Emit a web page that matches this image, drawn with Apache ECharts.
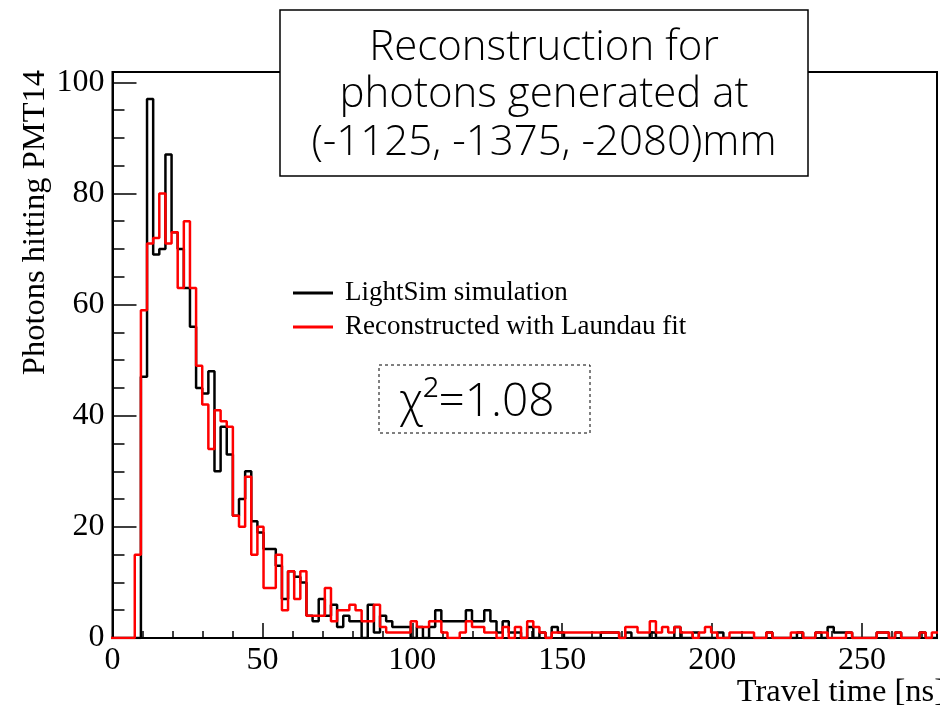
<!DOCTYPE html>
<html>
<head>
<meta charset="utf-8">
<script src="https://cdn.jsdelivr.net/npm/echarts@6/dist/echarts.min.js"></script>
<style>
  html, body { margin: 0; padding: 0; background: #fff; }
  #chart { width: 940px; height: 710px; }
</style>
</head>
<body>
<div id="chart"></div>
<script>
// Histogram binning (ns)
const binStart = -0.75;
const binWidth = 2.045;

// Photon counts per bin: LightSim simulation
const simCounts = [
  0, 0, 0, 0, 0, 47, 97, 69, 70, 87,
  73, 70, 63, 56, 45, 44, 48, 30, 38, 33,
  22, 25, 30, 21, 19, 16, 16, 13, 7, 12,
  11, 10, 4, 3, 7, 4, 6, 2, 4, 3,
  3, 0, 6, 1, 4, 3, 2, 2, 2, 0,
  2, 0, 2, 5, 3, 3, 3, 3, 5, 3,
  3, 5, 3, 1, 3, 1, 1, 0, 2, 0,
  1, 0, 2, 1, 0, 0, 0, 0, 0, 0,
  1, 1, 1, 0, 1, 0, 0, 0, 1, 0,
  0, 0, 2, 0, 0, 1, 0, 0, 0, 1,
  0, 0, 0, 0, 0, 0, 0, 1, 0, 0,
  0, 0, 1, 0, 0, 1, 0, 2, 1, 1,
  1, 0, 0, 0, 0, 1, 1, 0, 1, 0,
  0, 0, 1, 0, 0
];

// Photon counts per bin: reconstruction with Landau fit
const recoCounts = [
  0, 0, 0, 0, 15, 59, 71, 72, 80, 71,
  73, 63, 75, 63, 49, 42, 34, 41, 39, 38,
  22, 20, 29, 15, 20, 9, 9, 15, 5, 12,
  7, 12, 4, 4, 4, 9, 3, 5, 5, 6,
  5, 3, 3, 6, 2, 1, 1, 1, 1, 3,
  2, 2, 3, 3, 1, 0, 0, 1, 3, 2,
  2, 1, 1, 0, 2, 0, 2, 0, 3, 2,
  1, 0, 1, 1, 1, 1, 1, 1, 1, 1,
  1, 1, 1, 0, 2, 2, 1, 1, 3, 1,
  2, 1, 2, 1, 1, 0, 1, 2, 1, 0,
  0, 1, 1, 1, 1, 0, 0, 1, 0, 0,
  0, 1, 1, 0, 0, 1, 1, 0, 0, 0,
  1, 0, 0, 0, 0, 1, 1, 0, 1, 0,
  0, 0, 1, 0, 1
];

const seriesNames = ['LightSim simulation', 'Reconstructed with Laundau fit'];
const titleLines = ['Reconstruction for', 'photons generated at', '(-1125, -1375, -2080)mm'];
const chiText = '\u03C7\u00B2=1.08';
const xTitle = 'Travel time [ns]';
const yTitle = 'Photons hitting PMT14';

const xMin = 0, xMax = 275;
const yMin = 0, yMax = 101.85;

// Turn per-bin counts into step-line points along the bin edges
function toSteps(counts) {
  const pts = counts.map((c, i) => [binStart + i * binWidth, c]);
  pts.push([binStart + counts.length * binWidth, counts[counts.length - 1]]);
  return pts;
}

const serif = '"Liberation Serif", "Times New Roman", serif';
const sans = '"Open Sans", "Noto Sans", sans-serif';

const chart = echarts.init(document.getElementById('chart'), null, { renderer: 'canvas' });

const gridLeft = 112.5, gridTop = 72, gridWidth = 830, gridHeight = 566;

chart.setOption({
  animation: false,
  backgroundColor: '#fff',
  grid: {
    left: gridLeft, top: gridTop, width: gridWidth, height: gridHeight,
    show: true, borderColor: '#000', borderWidth: 2, backgroundColor: 'transparent'
  },
  xAxis: [
    {
      type: 'value', min: xMin, max: xMax, interval: 50,
      axisLine: { show: true, onZero: false, lineStyle: { color: '#000', width: 2 } },
      axisTick: { show: true, inside: true, length: 15, lineStyle: { color: '#000', width: 1.5 } },
      axisLabel: {
        margin: 7, color: '#000', fontFamily: serif, fontSize: 32,
        formatter: v => (v % 50 === 0 ? String(v) : '')
      },
      splitLine: { show: false }
    },
    {
      type: 'value', min: xMin, max: xMax, interval: 10, position: 'bottom',
      axisLine: { show: false },
      axisTick: { show: true, inside: true, length: 7, lineStyle: { color: '#000', width: 1.5 } },
      axisLabel: { show: false },
      splitLine: { show: false }
    }
  ],
  yAxis: [
    {
      type: 'value', min: yMin, max: yMax, interval: 20,
      axisLine: { show: true, onZero: false, lineStyle: { color: '#000', width: 2 } },
      axisTick: { show: true, inside: true, length: 24, lineStyle: { color: '#000', width: 1.5 } },
      axisLabel: {
        margin: 8, color: '#000', fontFamily: serif, fontSize: 32,
        formatter: v => (v % 20 === 0 ? String(v) : '')
      },
      splitLine: { show: false }
    },
    {
      type: 'value', min: yMin, max: yMax, interval: 5, position: 'left',
      axisLine: { show: false },
      axisTick: { show: true, inside: true, length: 12, lineStyle: { color: '#000', width: 1.5 } },
      axisLabel: { show: false },
      splitLine: { show: false }
    }
  ],
  legend: {
    orient: 'vertical', left: 293, top: 279.5, padding: 0, itemGap: 7,
    itemWidth: 40, itemHeight: 3, icon: 'rect',
    textStyle: { fontFamily: serif, fontSize: 27, color: '#000', padding: [0, 0, 0, 7] },
    data: seriesNames
  },
  series: [
    {
      name: seriesNames[0], type: 'line', step: 'end', symbol: 'none',
      xAxisIndex: 0, yAxisIndex: 0,
      lineStyle: { color: '#000', width: 2.5 }, itemStyle: { color: '#000' },
      data: toSteps(simCounts), z: 2
    },
    {
      name: seriesNames[1], type: 'line', step: 'end', symbol: 'none',
      xAxisIndex: 0, yAxisIndex: 0,
      lineStyle: { color: '#ff0000', width: 2.5 }, itemStyle: { color: '#ff0000' },
      data: toSteps(recoCounts), z: 3
    }
  ],
  graphic: [
    {
      type: 'group', z: 100,
      children: [
        { type: 'rect', shape: { x: 280, y: 10, width: 528, height: 166 },
          style: { fill: '#fff', stroke: '#000', lineWidth: 1.5 } },
        { type: 'text', x: 544, y: 48,
          style: { text: titleLines[0], font: '300 42px ' + sans, fill: '#000', align: 'center', verticalAlign: 'middle' } },
        { type: 'text', x: 544, y: 95,
          style: { text: titleLines[1], font: '300 42px ' + sans, fill: '#000', align: 'center', verticalAlign: 'middle' } },
        { type: 'text', x: 544, y: 143,
          style: { text: titleLines[2], font: '300 42px ' + sans, fill: '#000', align: 'center', verticalAlign: 'middle' } }
      ]
    },
    {
      type: 'group', z: 100,
      children: [
        { type: 'rect', shape: { x: 379, y: 365, width: 211, height: 68 },
          style: { fill: '#fff', stroke: '#000', lineWidth: 1, lineDash: [3, 3] } },
        { type: 'text', x: 477, y: 403,
          style: { text: chiText, font: '300 46px ' + sans, fill: '#000', align: 'center', verticalAlign: 'middle' } }
      ]
    },
    {
      type: 'text', x: 945, y: 692, z: 100,
      style: { text: xTitle, font: '32.5px ' + serif, fill: '#000', align: 'right', verticalAlign: 'middle' }
    },
    {
      type: 'text', x: 35, y: 70, rotation: Math.PI / 2, z: 100,
      style: { text: yTitle, font: '32.5px ' + serif, fill: '#000', align: 'right', verticalAlign: 'middle' }
    }
  ]
});
</script>
</body>
</html>
